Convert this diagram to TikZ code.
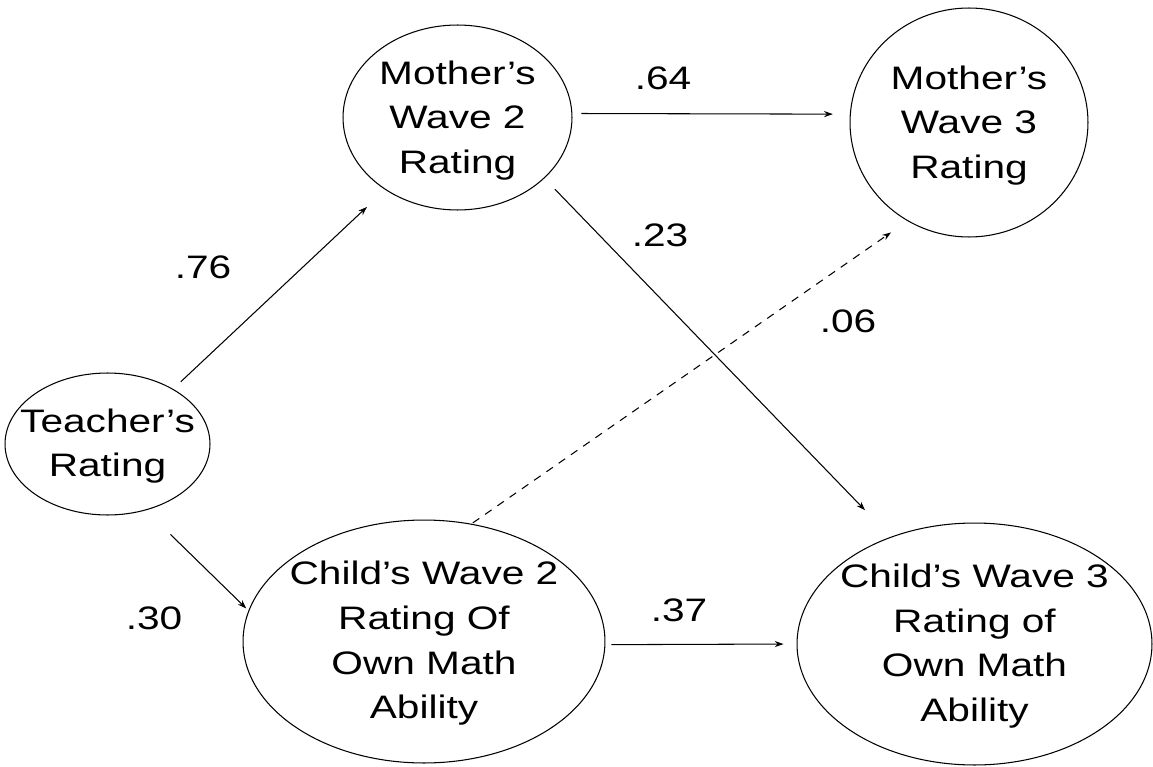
\documentclass[tikz,border=0pt]{standalone}
\usepackage{fontspec}
\setmainfont{Liberation Sans}[FakeStretch=1.25]
\usetikzlibrary{shapes.geometric,arrows.meta}
\begin{document}
\begin{tikzpicture}[x=0.02cm,y=-0.02cm,
  ell/.style={draw, ellipse, inner sep=0pt, line width=0.6pt},
  txt/.style={align=center, font=\fontsize{18.5}{25.4}\selectfont, inner sep=0pt},
  arr/.style={line width=0.6pt, -{Stealth[length=5pt,width=3.5pt]}},
  dsh/.style={arr, dash pattern=on 4.5pt off 4pt},
  coef/.style={font=\fontsize{18.5}{25.4}\selectfont, inner sep=0pt}
]
\useasboundingbox (0,0) rectangle (1153,767);
% nodes
\node[ell, minimum width=4.1cm, minimum height=2.84cm, label={[txt, yshift=-0.04cm]center:Teacher’s\\Rating}] (t) at (107.5,444) {};
\node[ell, minimum width=4.58cm, minimum height=3.7cm, label={[txt, yshift=-0.06cm]center:Mother’s\\Wave 2\\Rating}] (mw2) at (457.5,117.5) {};
\node[ell, minimum width=4.76cm, minimum height=4.58cm, label={[txt, yshift=-0.06cm]center:Mother’s\\Wave 3\\Rating}] (mw3) at (969,122.5) {};
\node[ell, minimum width=7.24cm, minimum height=4.86cm, label={[txt, yshift=-0.04cm]center:Child’s Wave 2\\Rating Of\\Own Math\\Ability}] (cw2) at (424,641.5) {};
\node[ell, minimum width=7.1cm, minimum height=4.84cm, label={[txt, yshift=-0.04cm]center:Child’s Wave 3\\Rating of\\Own Math\\Ability}] (cw3) at (974.5,644) {};
% connectors
\draw[arr, shorten <=0.21cm, shorten >=0.5cm] (t.40.5) -- (mw2.225.6);
\draw[arr, shorten <=0.18cm, shorten >=0.34cm] (mw2.2.1) -- (mw3.176);
\draw[arr, shorten <=0.3cm, shorten >=0.74cm] (mw2.-35.2) -- (cw3.128);
\draw[dsh, shorten <=0.03cm, shorten >=0.4cm] (cw2.68.9) -- (mw3.238.4);
\draw[arr, shorten <=0.69cm, shorten >=0.06cm] (t.-60) -- (cw2.170.1);
\draw[arr, shorten <=0.12cm, shorten >=0.26cm] (cw2.-1.1) -- (cw3.180);
% coefficients
\node[coef] (c76) at (203,267) {.76};
\node[coef] (c64) at (663,78) {.64};
\node[coef] (c23) at (660,235) {.23};
\node[coef] (c06) at (848,321) {.06};
\node[coef] (c30) at (154,618) {.30};
\node[coef] (c37) at (679,610) {.37};
\end{tikzpicture}
\end{document}
